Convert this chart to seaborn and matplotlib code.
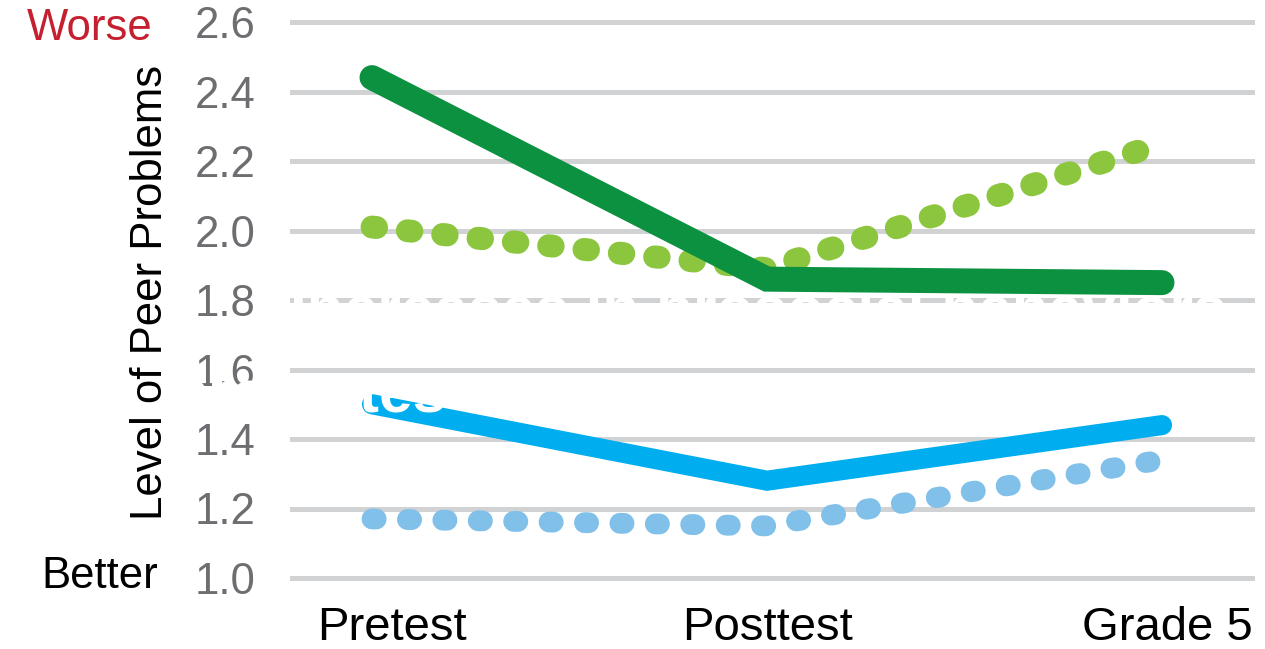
import matplotlib
matplotlib.use("Agg")
import matplotlib.pyplot as plt
import seaborn as sns
import pandas as pd

# ---- data -------------------------------------------------------------
timepoints = ["Pretest", "Posttest", "Grade 5"]
step = [0, 1, 2]
green_solid = [2.44, 1.86, 1.85]
green_dotted = [2.01, 1.89, 2.25]
blue_solid = [1.50, 1.28, 1.44]
blue_dotted = [1.17, 1.15, 1.34]
y_ticks = [1.0, 1.2, 1.4, 1.6, 1.8, 2.0, 2.2, 2.4, 2.6]
y_label = "Level of Peer Problems"
worse_text = "Worse"
better_text = "Better"
overlay_line1 = "Increases in prosocial behaviors"
overlay_line2 = "promotes"

# ---- style ------------------------------------------------------------
sns.set_theme(style="white")
plt.rcParams["font.family"] = ["Liberation Sans", "DejaVu Sans"]

W, H = 1265, 649
fig = plt.figure(figsize=(W / 100, H / 100), dpi=100)
left, right, bottom, top = 290, 1255, 600, 5
ax = fig.add_axes([left / W, (H - bottom) / H, (right - left) / W, (bottom - top) / H])

def px_to_y(py):
    return 1.0 + (578 - py) / 347.5

def px_to_x(px):
    return (px - 372) / 395.0

ax.set_xlim(px_to_x(left), px_to_x(right))
ax.set_ylim(px_to_y(bottom), px_to_y(top))

for s in ax.spines.values():
    s.set_visible(False)

# horizontal grid
ax.set_yticks(y_ticks)
ax.set_yticklabels([f"{v:.1f}" for v in y_ticks])
ax.yaxis.grid(True, color="#d1d2d4", linewidth=3.6, zorder=0)
ax.xaxis.grid(False)
ax.set_axisbelow(True)
ax.tick_params(axis="y", length=0, pad=25, labelsize=31.5, labelcolor="#6d6e71")

# category labels
ax.set_xticks([px_to_x(392), px_to_x(768), px_to_x(1167)])
ax.set_xticklabels(timepoints)
ax.tick_params(axis="x", length=0, pad=4, labelsize=34, labelcolor="black")
for lbl in ax.get_xticklabels():
    lbl.set_family(["Liberation Sans Narrow", "Liberation Sans", "DejaVu Sans"])

df = pd.DataFrame({"step": step, "gs": green_solid, "gd": green_dotted,
                   "bs": blue_solid, "bd": blue_dotted})

sns.lineplot(data=df, x="step", y="bs", ax=ax, color="#00aeef",
             linewidth=14.5, solid_capstyle="round", solid_joinstyle="miter",
             zorder=2)
sns.lineplot(data=df, x="step", y="bd", ax=ax, color="#80c0e9",
             linewidth=15, linestyle=(0, (0.2, 1.5)), dash_capstyle="round",
             zorder=2)
sns.lineplot(data=df, x="step", y="gd", ax=ax, color="#8cc63f",
             linewidth=16.5, linestyle=(0, (0.2, 1.35)), dash_capstyle="round",
             zorder=4)
sns.lineplot(data=df, x="step", y="gs", ax=ax, color="#0b9140",
             linewidth=18, solid_capstyle="round", solid_joinstyle="miter",
             zorder=4)
ax.set_xlabel("")
ax.set_ylabel("")

# white caption text sitting over the grid
ax.text(px_to_x(290), px_to_y(328), overlay_line1, color="white",
        fontsize=43.5, fontweight="bold", ha="left", va="baseline", zorder=3)
ax.text(px_to_x(172), px_to_y(412), overlay_line2, color="white",
        fontsize=43.5, fontweight="bold", ha="left", va="baseline", zorder=3,
        clip_on=False)

# side annotations
fig.text(153 / W, 1 - 29 / H, worse_text, color="#c4202f", fontsize=31.5,
         ha="right", va="center")
fig.text(158 / W, 1 - 576 / H, better_text, color="black", fontsize=31.5,
         ha="right", va="center")
fig.text(150 / W, 1 - 292 / H, y_label, color="black", fontsize=31.5,
         rotation=90, ha="center", va="center")

fig.savefig("out.png", dpi=100)
